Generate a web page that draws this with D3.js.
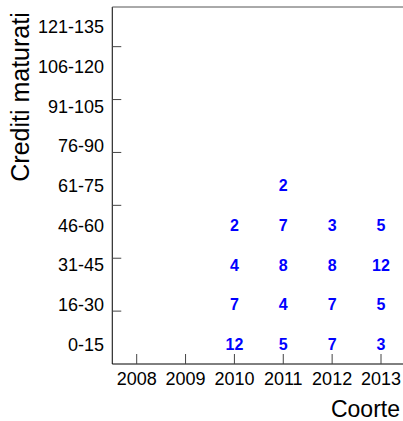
<!DOCTYPE html>
<html>
<head>
<meta charset="utf-8">
<script src="https://cdn.jsdelivr.net/npm/d3@7"></script>
<style>
  body { margin: 0; background: white; }
  text { font-family: "Liberation Sans", Arial, sans-serif; }
</style>
</head>
<body>
<div id="chart"></div>
<script>
// bins of credits (y) and cohorts (x)
const bins = ['0-15', '16-30', '31-45', '46-60', '61-75', '76-90', '91-105', '106-120', '121-135']
const years = [2008, 2009, 2010, 2011, 2012, 2013]
const yTicks = [20, 40, 60, 80, 100, 120]

// counts per cohort, one value per bin (0 = empty)
const c2010 = [12, 7, 4, 2, 0, 0, 0, 0, 0]
const c2011 = [5, 4, 8, 7, 2, 0, 0, 0, 0]
const c2012 = [7, 7, 8, 3, 0, 0, 0, 0, 0]
const c2013 = [3, 5, 12, 5, 0, 0, 0, 0, 0]

const cells = []
;[[2010, c2010], [2011, c2011], [2012, c2012], [2013, c2013]].forEach(([yr, vals]) => {
  vals.forEach((v, i) => { if (v > 0) cells.push({ year: yr, bin: i, value: v }) })
})

const W = 403, H = 421
const svg = d3.select('#chart').append('svg')
  .attr('width', W)
  .attr('height', H)
  .style('background', 'white')

const x = d3.scaleLinear().domain([2008, 2013]).range([136.7, 381])
const y = d3.scaleLinear().domain([0, 135]).range([364, 7])
const x0 = x(2007.5)

// frame: left, bottom, top
svg.append('line').attr('x1', x0).attr('x2', x0).attr('y1', y(135)).attr('y2', y(0))
  .attr('stroke', 'black').attr('stroke-width', 1)
svg.append('line').attr('x1', x0).attr('x2', W).attr('y1', y(0)).attr('y2', y(0))
  .attr('stroke', 'black').attr('stroke-width', 1)
svg.append('line').attr('x1', x0).attr('x2', W).attr('y1', y(135)).attr('y2', y(135))
  .attr('stroke', '#555').attr('stroke-width', 1)

// y ticks (every 20 credits)
svg.selectAll('.ytick').data(yTicks).enter().append('line')
  .attr('x1', x0).attr('x2', x0 + 9)
  .attr('y1', d => y(d)).attr('y2', d => y(d))
  .attr('stroke', '#444')

// y bin labels at bin centers
svg.selectAll('.ylab').data(bins).enter().append('text')
  .attr('x', 104)
  .attr('y', (d, i) => y(i * 15 + 7.5))
  .attr('dy', '0.36em')
  .attr('text-anchor', 'end')
  .attr('font-size', 18)
  .attr('fill', 'black')
  .text(d => d)

// x ticks
svg.selectAll('.xtick').data(years).enter().append('line')
  .attr('x1', d => x(d)).attr('x2', d => x(d))
  .attr('y1', y(0)).attr('y2', y(0) - 10)
  .attr('stroke', '#444')

svg.selectAll('.xlab').data(years).enter().append('text')
  .attr('x', d => x(d))
  .attr('y', 385)
  .attr('text-anchor', 'middle')
  .attr('font-size', 18)
  .attr('fill', 'black')
  .text(d => d)

// cell values
svg.selectAll('.cell').data(cells).enter().append('text')
  .attr('x', d => x(d.year))
  .attr('y', d => y(d.bin * 15 + 7.5))
  .attr('dy', '0.36em')
  .attr('text-anchor', 'middle')
  .attr('font-size', 16)
  .attr('font-weight', 'bold')
  .attr('fill', '#0000ff')
  .text(d => d.value)

// axis titles
svg.append('text')
  .attr('x', 400).attr('y', 417)
  .attr('text-anchor', 'end')
  .attr('font-size', 23)
  .attr('fill', 'black')
  .text('Coorte')

svg.append('text')
  .attr('transform', 'translate(29,97) rotate(-90)')
  .attr('text-anchor', 'middle')
  .attr('font-size', 25)
  .attr('fill', 'black')
  .text('Crediti maturati')
</script>
</body>
</html>
